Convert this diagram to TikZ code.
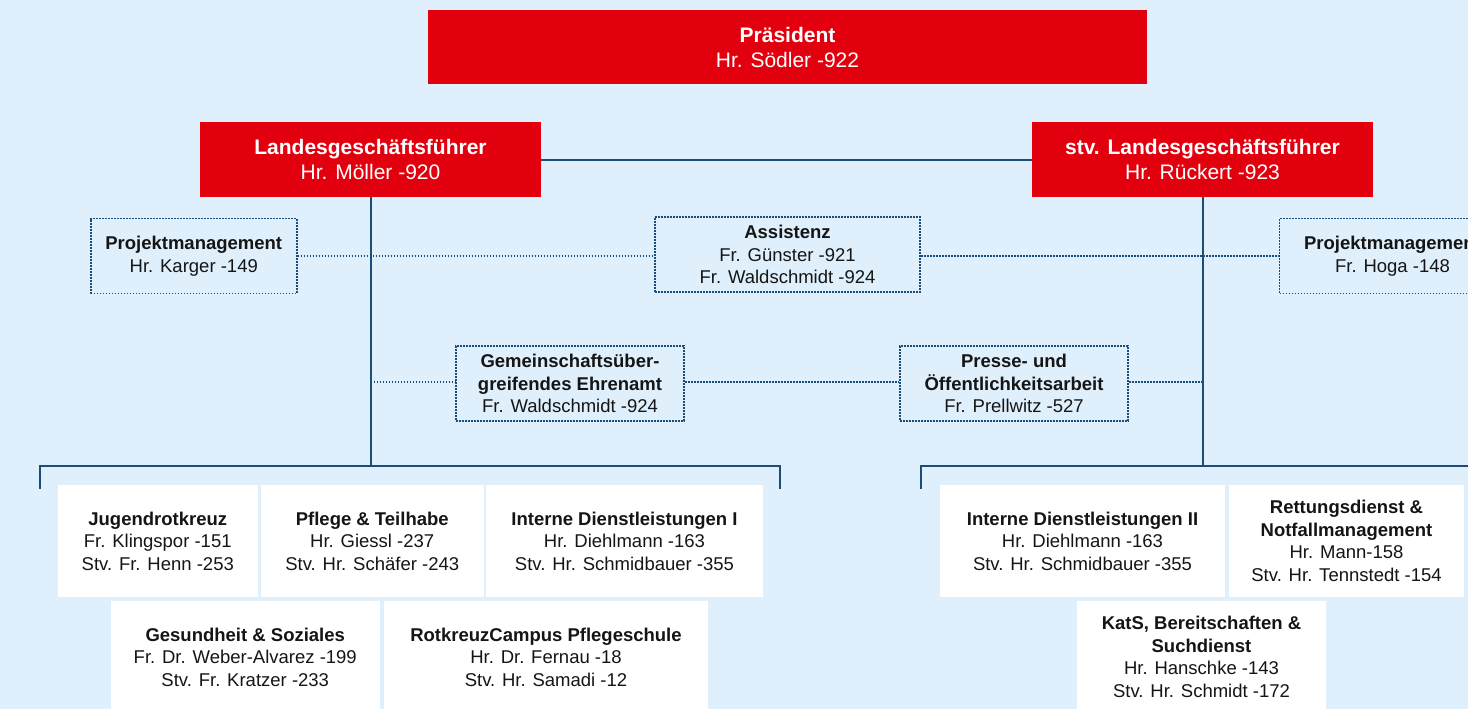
\documentclass[tikz,border=0pt]{standalone}
\usepackage{fontspec}
\setmainfont{Liberation Sans}
\definecolor{bgblue}{HTML}{DFF0FC}
\definecolor{drkred}{HTML}{E2000F}
\definecolor{navy}{HTML}{1C4C78}
\definecolor{txt}{HTML}{151515}
\tikzset{
  redbox/.style={fill=drkred, text=white, inner sep=0pt, align=center,
    font=\fontsize{21}{25}\selectfont},
  dotbox/.style={draw=navy, line width=1.8pt, dash pattern=on 1.7pt off 1.3pt,
    inner sep=0pt, align=center, text=txt, minimum height=75pt,
    font=\fontsize{18.5}{22.5}\selectfont},
  whitebox/.style={fill=white, inner sep=0pt, align=center, text=txt,
    minimum height=112pt, font=\fontsize{18.5}{22.5}\selectfont},
  solidline/.style={draw=navy, line width=2pt},
  dotline/.style={draw=navy, line width=1.8pt, dash pattern=on 1.7pt off 1.3pt},
}
\begin{document}
\begin{tikzpicture}[x=1pt,y=-1pt]
\useasboundingbox (0,0) rectangle (1468,709);
\clip (0,0) rectangle (1468,709);
\fill[bgblue] (0,0) rectangle (1468,709);

% top boxes
\node[redbox, minimum width=719pt, minimum height=74pt] (praes) at (787.5,47) {\textbf{Präsident}\\Hr. Södler -922};
\node[redbox, minimum width=341pt, minimum height=75pt] (lgf) at (370.5,159.5) {\textbf{Landesgeschäftsführer}\\Hr. Möller -920};
\node[redbox, minimum width=341pt, minimum height=75pt] (stv) at (1202.5,159.5) {\textbf{stv. Landesgeschäftsführer}\\Hr. Rückert -923};

% staff (dotted) boxes
\node[dotbox, minimum width=206pt] (pm1) at (193.75,256) {\textbf{Projektmanagement}\\Hr. Karger -149};
\node[dotbox, minimum width=265pt] (assist) at (787.5,254.5) {\textbf{Assistenz}\\Fr. Günster -921\\Fr. Waldschmidt -924};
\node[dotbox, minimum width=226pt] (pm2) at (1392.5,256) {\textbf{Projektmanagement}\\Fr. Hoga -148};
\node[dotbox, minimum width=228pt] (gem) at (570,383.5) {\textbf{Gemeinschaftsüber-}\\\textbf{greifendes Ehrenamt}\\Fr. Waldschmidt -924};
\node[dotbox, minimum width=228pt] (presse) at (1014,383.5) {\textbf{Presse- und}\\\textbf{Öffentlichkeitsarbeit}\\Fr. Prellwitz -527};

% departments
\node[whitebox, minimum width=200.5pt] (jrk) at (157.75,541) {\textbf{Jugendrotkreuz}\\Fr. Klingspor -151\\Stv. Fr. Henn -253};
\node[whitebox, minimum width=222.5pt] (pflege) at (372.25,541) {\textbf{Pflege \& Teilhabe}\\Hr. Giessl -237\\Stv. Hr. Schäfer -243};
\node[whitebox, minimum width=277pt] (idl1) at (624.5,541) {\textbf{Interne Dienstleistungen I}\\Hr. Diehlmann -163\\Stv. Hr. Schmidbauer -355};
\node[whitebox, minimum width=269.5pt] (ges) at (245.25,657) {\textbf{Gesundheit \& Soziales}\\Fr. Dr. Weber-Alvarez -199\\Stv. Fr. Kratzer -233};
\node[whitebox, minimum width=324pt] (rkc) at (546,657) {\textbf{RotkreuzCampus Pflegeschule}\\Hr. Dr. Fernau -18\\Stv. Hr. Samadi -12};
\node[whitebox, minimum width=285pt] (idl2) at (1082.5,541) {\textbf{Interne Dienstleistungen II}\\Hr. Diehlmann -163\\Stv. Hr. Schmidbauer -355};
\node[whitebox, minimum width=235pt] (rett) at (1346.5,541) {\textbf{Rettungsdienst \&}\\\textbf{Notfallmanagement}\\Hr. Mann-158\\Stv. Hr. Tennstedt -154};
\node[whitebox, minimum width=249pt] (kats) at (1201.5,657) {\textbf{KatS, Bereitschaften \&}\\\textbf{Suchdienst}\\Hr. Hanschke -143\\Stv. Hr. Schmidt -172};

% coordinates
\coordinate (lbar) at (370.5,466);
\coordinate (rbar) at (1202.5,466);
\coordinate (lL) at (40,466);
\coordinate (lLd) at (40,489);
\coordinate (lR) at (780,466);
\coordinate (lRd) at (780,489);
\coordinate (rL) at (921,466);
\coordinate (rLd) at (921,489);
\coordinate (rR) at (1480,466);
\coordinate (gemL) at (370.5,382);
\coordinate (presR) at (1202.5,382);

% solid connectors
\draw[solidline] (lgf.east) -- (stv.west);
\draw[solidline] (lgf.south) -- (lbar);
\draw[solidline] (stv.south) -- (rbar);
\draw[solidline] (lLd) -- (lL) -- (lR) -- (lRd);
\draw[solidline] (rLd) -- (rL) -- (rR);

% dotted connectors
\draw[dotline] (pm1.east) -- (pm1.east -| assist.west);
\draw[dotline] (assist.east |- pm2.west) -- (pm2.west);
\draw[dotline] (gemL) -- (gemL -| gem.west);
\draw[dotline] (gem.east |- gemL) -- (presse.west |- gemL);
\draw[dotline] (presse.east |- presR) -- (presR);
\end{tikzpicture}
\end{document}
